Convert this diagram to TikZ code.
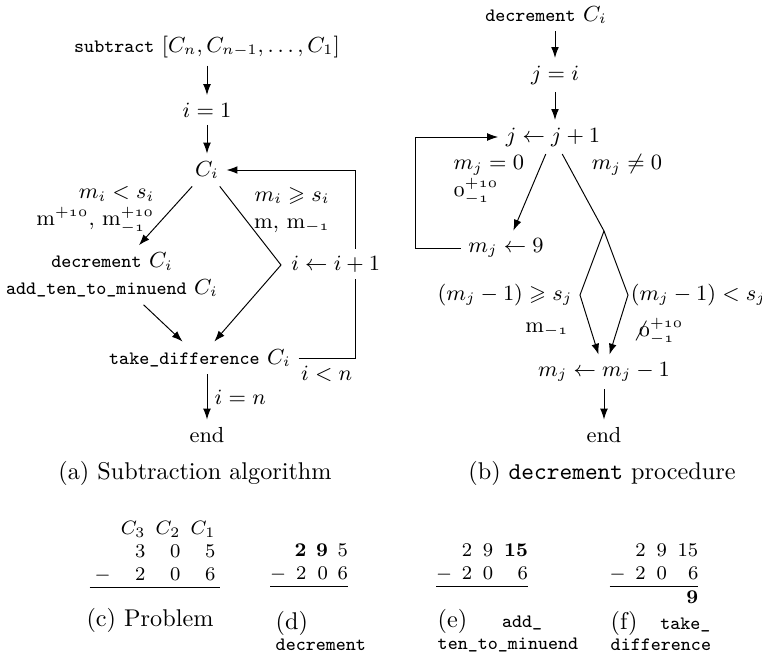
\documentclass[tikz,border=0pt]{standalone}
\usepackage{amsmath,amssymb}
\usetikzlibrary{arrows.meta}
\newcommand{\code}[1]{{\fontsize{7.8}{9}\selectfont\ttfamily #1}}
\newcommand{\osn}[1]{\mathnormal{#1}}
\newcommand{\mm}{\mathrm{m}}

\begin{document}
\begin{tikzpicture}[x=0.413pt,y=-0.413pt,font=\small,>={Latex[length=4.5pt,width=3.2pt]},
  every node/.style={inner sep=3pt}]
  \useasboundingbox (0,0) rectangle (762,669);
  % (a) subtraction algorithm
  \node (sub) at (207,47) {\code{subtract} $[C_n,C_{n-1},\ldots,C_1]$};
  \node (i1) at (207,110) {$i=1$};
  \node (ci) at (207,170) {$C_i$};
  \node[align=center] (dec) at (112,275) {\code{decrement} $C_i$\\\code{add\_ten\_to\_minuend} $C_i$};
  \node (take) at (200,358) {\code{take\_difference} $C_i$};
  \node (endA) at (207,435) {end};
  \coordinate (kA) at (281,265);
  \coordinate (lpA) at (355,170);
  \node[anchor=east,align=right] (lblLt) at (162,210) {$m_i<s_i$\\$\mm^{+\osn{10}}$, $\mm^{+\osn{10}}_{-\osn{1}}$};
  \node[align=center] (lblGe) at (292,210) {$m_i\geqslant s_i$\\$\mm$, $\mm_{-\osn{1}}$};
  \draw[->] (sub) -- (i1);
  \draw[->] (i1) -- (ci);
  \draw[->] (ci) -- (dec);
  \draw[->] (ci) -- (kA) -- (take);
  \draw[->] (dec) -- (take);
  \draw[->] (take.east) -| node[pos=0.25,below] (lblIn) {$i<n$}
    node[pos=0.75,fill=white,xshift=-8pt] (lblInc) {$i\leftarrow i+1$} (lpA) -- (ci.east);
  \draw[->] (endA |- take.south) -- node[right] (lblEq) {$i=n$} (endA);
  \node[font=\normalsize] (capA) at (195,473) {(a) Subtraction algorithm};

  % (b) decrement procedure
  \node (decB) at (546,15) {\code{decrement} $C_i$};
  \node (ji) at (555,75) {$j=i$};
  \node (jinc) at (553,137) {$j\leftarrow j+1$};
  \node (m9) at (506,248) {$m_j\leftarrow 9$};
  \node (mdec) at (604,372) {$m_j\leftarrow m_j-1$};
  \node (endB) at (604,435) {end};
  \coordinate (fork) at (604,231);
  \coordinate (kL) at (580,295);
  \coordinate (kR) at (628,295);
  \coordinate (lpB) at (415,137);
  \node[anchor=west,align=left] (lblZ) at (446,180) {$m_j=0$\\$\osn{0}^{+\osn{10}}_{-\osn{1}}$};
  \node (lblNZ) at (627,165) {$m_j\neq 0$};
  \node (lblM) at (547,330) {$\mm_{-\osn{1}}$};
  \node (lblO) at (658,331) {$\not\osn{0}^{+\osn{10}}_{-\osn{1}}$};
  \draw[->] (ji |- decB.south) -- (ji);
  \draw[->] (ji) -- (ji |- jinc.north);
  \draw[->] (jinc) -- (m9);
  \draw (jinc) -- (fork);
  \draw[->] (fork) -- (kL) node[left] (lblGeB) {$(m_j-1)\geqslant s_j$} -- (mdec);
  \draw[->] (fork) -- (kR) node[right,inner sep=1pt] (lblLtB) {$(m_j-1)<s_j$} -- (mdec);
  \draw[->] (m9.west) -| (lpB) -- (jinc.west);
  \draw[->] (mdec) -- (endB);
  \node[font=\normalsize] (capB) at (602,473) {(b) \texttt{decrement} procedure};

  % (c)--(f) worked example
  \node[font=\footnotesize,inner sep=0pt,anchor=north] (probC) at (155,518)
    {\setlength{\arraycolsep}{2.1pt}$\begin{array}{rrrr} & C_3 & C_2 & C_1\\ & 3 & 0 & 5\\ - & 2 & 0 & 6\\\hline\end{array}$};
  \node[font=\footnotesize,inner sep=0pt,anchor=north] (probD) at (309,540)
    {$\begin{array}{@{}r@{\hspace{3.5pt}}r@{\hspace{4pt}}r@{\hspace{4pt}}r@{}} & \mathbf{2} & \mathbf{9} & 5\\ - & 2 & 0 & 6\\\hline\end{array}$};
  \node[font=\footnotesize,inner sep=0pt,anchor=north] (probE) at (482,540)
    {$\begin{array}{@{}r@{\hspace{4pt}}r@{\hspace{4.5pt}}r@{\hspace{4.5pt}}r@{}} & 2 & 9 & \mathbf{15}\\ - & 2 & 0 & 6\\\hline\end{array}$};
  \node[font=\footnotesize,inner sep=0pt,anchor=north] (probF) at (654,540)
    {$\begin{array}{@{}r@{\hspace{4pt}}r@{\hspace{4.5pt}}r@{\hspace{4.5pt}}r@{}} & 2 & 9 & 15\\ - & 2 & 0 & 6\\\hline & & & \mathbf{9}\end{array}$};
  \node[font=\normalsize] (capC) at (150,620) {(c) Problem};
  \node[font=\normalsize,anchor=west,align=left] (capD) at (268,631) {(d)\\[-3pt]\code{decrement}};
  \node[font=\normalsize,anchor=west,align=left] (capE) at (430,631) {(e)\hspace{11pt} \code{add\_}\\[-3pt]\code{ten\_to\_minuend}};
  \node[font=\normalsize,anchor=west,align=left] (capF) at (603,631) {(f)\hspace{6pt} \code{take\_}\\[-3pt]\code{difference}};
\end{tikzpicture}
\end{document}
